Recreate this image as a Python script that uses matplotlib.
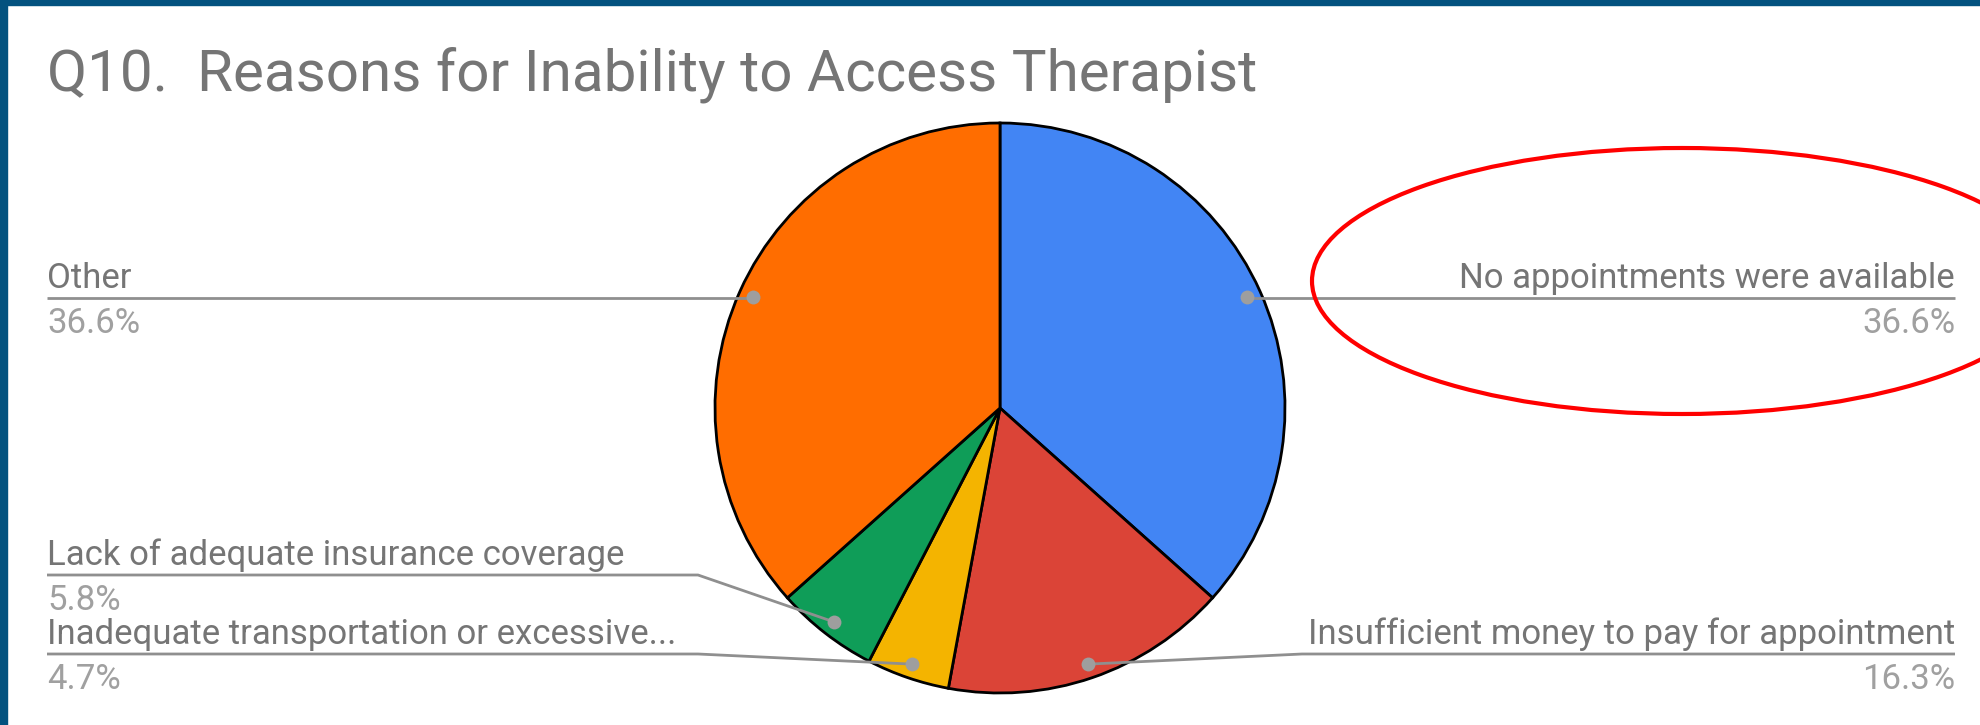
import numpy as np
import matplotlib
matplotlib.use("Agg")
import matplotlib.pyplot as plt
import matplotlib.patches as patches

plt.rcParams['font.family'] = ['Roboto', 'DejaVu Sans']

title = "Q10.  Reasons for Inability to Access Therapist"
categories = ["No appointments were available",
              "Insufficient money to pay for appointment",
              "Inadequate transportation or excessive...",
              "Lack of adequate insurance coverage",
              "Other"]
shares = [36.6, 16.3, 4.7, 5.8, 36.6]
pct_labels = ["36.6%", "16.3%", "4.7%", "5.8%", "36.6%"]
colors = ["#4285f4", "#db4437", "#f4b400", "#0f9d58", "#ff6d00"]

W, H = 1980, 725
fig = plt.figure(figsize=(W / 100, H / 100), dpi=100)
ax = fig.add_axes([0, 0, 1, 1])

def py(y):
    # pixel row (from top) -> data y
    return H - y

cx, cy, R = 1000, py(408), 285
wedges, _ = ax.pie(shares, colors=colors, startangle=90, counterclock=False,
                   radius=R, center=(cx, cy), frame=True,
                   wedgeprops=dict(edgecolor='black', linewidth=2))
ax.set_xlim(0, W)
ax.set_ylim(0, H)
ax.set_aspect('equal')
ax.axis('off')

# label layout: side, leader-line row
layout = {
    0: ('right', 298),
    1: ('right', 654),
    2: ('left', 654),
    3: ('left', 575),
    4: ('left', 298),
}
left_x, right_x = 47, 1955
bend_left, bend_right = 698, 1302
line_col = '#8f8f8f'
lab_col = '#757575'
pct_col = '#a0a0a0'
fs = 25

for i, w in enumerate(wedges):
    mid = np.deg2rad((w.theta1 + w.theta2) / 2)
    dx = cx + 0.95 * R * np.cos(mid)
    dy = cy + 0.95 * R * np.sin(mid)
    side, row = layout[i]
    ly = py(row)
    if side == 'left':
        xs = [left_x, bend_left, dx]
        tx, ha = left_x, 'left'
    else:
        xs = [right_x, bend_right, dx]
        tx, ha = right_x, 'right'
    if abs(ly - dy) < 2:
        xs = [xs[0], dx]
        ys = [ly, ly]
    else:
        ys = [ly, ly, dy]
    ax.plot(xs, ys, color=line_col, lw=2, solid_capstyle='butt', zorder=3)
    ax.plot([dx], [dy], 'o', color='#9e9e9e', ms=10, mec='none', zorder=4)
    ax.text(tx, ly + 10, categories[i], ha=ha, va='baseline', fontsize=fs, color=lab_col)
    ax.text(tx, ly - 35, pct_labels[i], ha=ha, va='baseline', fontsize=fs, color=pct_col)

ax.text(47, py(90), title, ha='left', va='baseline', fontsize=42, color='#757575')

# red highlight ellipse
ax.add_patch(patches.Ellipse((1682, py(281)), 740, 266, fill=False,
                             edgecolor='#ff0000', lw=3, zorder=5))

# dark blue frame at top and left
ax.add_patch(patches.Rectangle((0, H - 5), W, 5, color='#03527f', zorder=6, clip_on=False))
ax.add_patch(patches.Rectangle((0, 0), 7, H, color='#03527f', zorder=6, clip_on=False))

fig.savefig("out.png", dpi=100)
